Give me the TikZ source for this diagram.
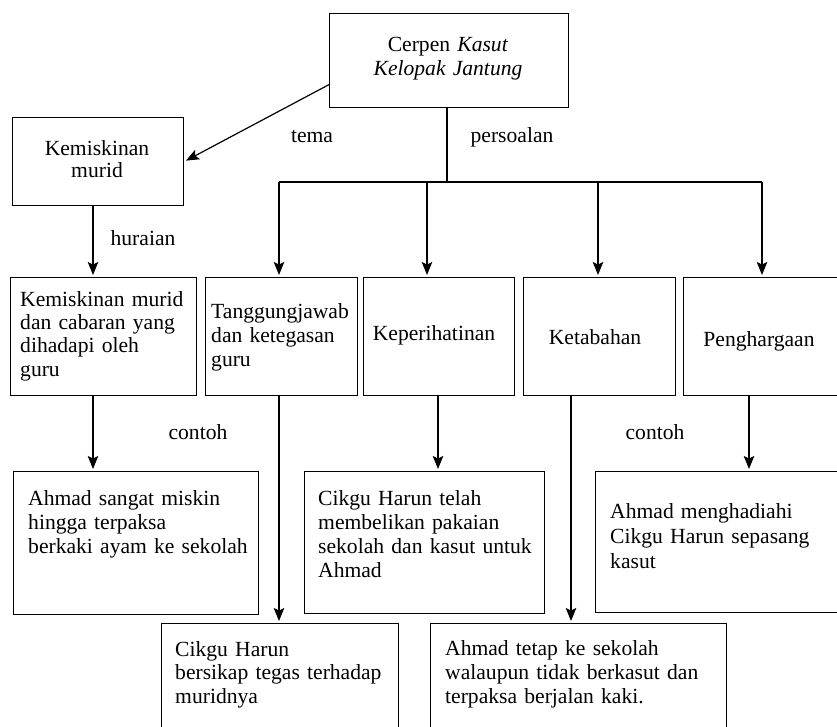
\documentclass[tikz,border=0pt]{standalone}
\usepackage{fontspec}
\setmainfont{Liberation Serif}
\usetikzlibrary{arrows.meta}
\begin{document}
\begin{tikzpicture}[x=1pt,y=-1pt,
  box/.style={draw, line width=1.2pt, inner sep=0pt, anchor=north west},
  txt/.style={inner sep=0pt, anchor=base west, text width=300pt, align=left,
    font=\fontsize{21.6}{24}\selectfont},
  ctxt/.style={inner sep=0pt, anchor=base, font=\fontsize{21.6}{24}\selectfont},
  arr/.style={line width=1.2pt, -{Stealth[length=13pt,width=10.5pt,inset=2.5pt]}, shorten >=2pt},
  ln/.style={line width=1.2pt}]
\useasboundingbox (0,0) rectangle (837,727);
\fill[white] (0,0) rectangle (837,727);
\clip (0,0) rectangle (837,727);

% boxes
\node[box, minimum width=239pt, minimum height=94pt] (top) at (329,13) {};
\node[box, minimum width=171pt, minimum height=88pt] (K) at (12,117) {};
\node[box, minimum width=186pt, minimum height=118pt] (A) at (10,277) {};
\node[box, minimum width=152pt, minimum height=118pt] (B) at (205,277) {};
\node[box, minimum width=151pt, minimum height=118pt] (C) at (363,277) {};
\node[box, minimum width=152pt, minimum height=118pt] (D) at (523,277) {};
\node[box, minimum width=170pt, minimum height=118pt] (E) at (683,277) {};
\node[box, minimum width=245pt, minimum height=143pt] (F) at (13,471) {};
\node[box, minimum width=240pt, minimum height=142pt] (G) at (304,471) {};
\node[box, minimum width=260pt, minimum height=141pt] (H) at (595,471) {};
\node[box, minimum width=237pt, minimum height=125pt] (I) at (161,623) {};
\node[box, minimum width=296pt, minimum height=125pt] (J) at (430,623) {};

% texts
\node[ctxt, text width=230pt, align=center] (ttop) at (448,52) {Cerpen \textit{Kasut}\\\textit{Kelopak Jantung}};
\node[ctxt, text width=160pt, align=center, font=\fontsize{21.6}{22}\selectfont] (tK) at (97,156) {Kemiskinan\\murid};
\node[txt, font=\fontsize{21.6}{23.4}\selectfont] (tA) at (20,306) {Kemiskinan murid\\dan cabaran yang\\dihadapi oleh\\guru};
\node[txt] (tB) at (211,318) {Tanggungjawab\\dan ketegasan\\guru};
\node[ctxt] (tC) at (434,340) {Keperihatinan};
\node[ctxt] (tD) at (595,344) {Ketabahan};
\node[ctxt] (tE) at (759,346) {Penghargaan};
\node[txt] (tF) at (28,505) {Ahmad sangat miskin\\hingga terpaksa\\berkaki ayam ke sekolah};
\node[txt] (tG) at (318,505) {Cikgu Harun telah\\membelikan pakaian\\sekolah dan kasut untuk\\Ahmad};
\node[txt, font=\fontsize{21.6}{25}\selectfont] (tH) at (610,518) {Ahmad menghadiahi\\Cikgu Harun sepasang\\kasut};
\node[txt, font=\fontsize{21.6}{23.5}\selectfont] (tI) at (175,656) {Cikgu Harun\\bersikap tegas terhadap\\muridnya};
\node[txt, font=\fontsize{21.6}{24}\selectfont] (tJ) at (445,655) {Ahmad tetap ke sekolah\\walaupun tidak berkasut dan\\terpaksa berjalan kaki.};

% labels
\node[ctxt] (ltema) at (312,143) {tema};
\node[ctxt] (lpers) at (512,143) {persoalan};
\node[ctxt] (lhur) at (143,246) {huraian};
\node[ctxt] (lc1) at (198,439) {contoh};
\node[ctxt] (lc2) at (655,439) {contoh};

% coordinates
\coordinate (bus) at (447,182);
\coordinate (jB) at (279,182);
\coordinate (jC) at (427,182);
\coordinate (jD) at (598,182);
\coordinate (jE) at (762,182);
\coordinate (xA) at (93,0);
\coordinate (xB) at (279,0);
\coordinate (xC) at (438,0);
\coordinate (xD) at (571,0);
\coordinate (xE) at (749,0);

% connectors
\draw[arr] ([yshift=-24pt]top.west) -- (K.east);
\draw[ln] (top.south -| bus) -- (bus);
\draw[ln] (jB) -- (jE);
\draw[arr] (jB) -- (jB |- B.north);
\draw[arr] (jC) -- (jC |- C.north);
\draw[arr] (jD) -- (jD |- D.north);
\draw[arr] (jE) -- (jE |- E.north);
\draw[arr] (K.south -| xA) -- (A.north -| xA);
\draw[arr] (A.south -| xA) -- (F.north -| xA);
\draw[arr] (B.south -| xB) -- (I.north -| xB);
\draw[arr] (C.south -| xC) -- (G.north -| xC);
\draw[arr] (D.south -| xD) -- (J.north -| xD);
\draw[arr] (E.south -| xE) -- (H.north -| xE);
\end{tikzpicture}
\end{document}
